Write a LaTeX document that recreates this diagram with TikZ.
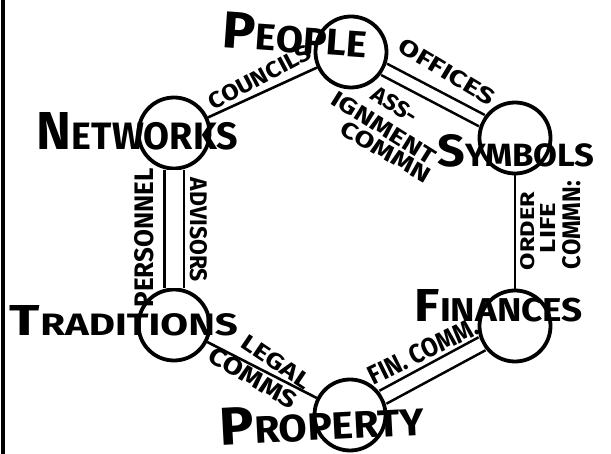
\documentclass[tikz,border=0pt]{standalone}
\usepackage{fontspec}
\setmainfont{Fira Sans}
\newcommand\fitbox[3]{\resizebox{#1pt}{#2pt}{#3}}
\newcommand\hwtext[2]{{\fontsize{14}{14}\selectfont #1}{\fontsize{10}{10}\selectfont #2}}
\tikzset{
  hub/.style={circle, draw, line width=3.8pt, fill=white, minimum size=71pt, inner sep=0pt},
  conn/.style={line width=2.6pt},
  dconn/.style={line width=2.6pt, double=white, double distance=#1},
  biglab/.style={inner sep=0pt, font=\fontseries{sb}\selectfont},
  smlab/.style={inner sep=0pt, font=\bfseries},
}
\begin{document}
\begin{tikzpicture}[x=1pt,y=-1pt]
\useasboundingbox (0,0) rectangle (611,454);
\fill (1,0) rectangle (5,454);
% hubs
\node[hub] (people) at (351,52) {};
\node[hub] (symbols) at (515,138) {};
\node[hub] (finances) at (515,326) {};
\node[hub] (property) at (350,415) {};
\node[hub] (traditions) at (174,325) {};
\node[hub] (networks) at (174,133) {};
% connectors
\draw[conn] (networks) -- (people);
\draw[dconn=10pt] (people) -- (symbols);
\draw[dconn=12pt] (finances) -- (property);
\draw[conn] (symbols) -- (finances);
\draw[conn] (property) -- (traditions);
\draw[dconn=17pt] (traditions) -- (networks);
% big labels
\node[biglab, rotate=-4] (peoplelab) at (295.5,35) {\fitbox{145}{36}{\hwtext{P}{EOPLE}}};
\node[biglab] (symbolslab) at (516,151) {\fitbox{157}{32}{\hwtext{S}{YMBOLS}}};
\node[biglab] (networkslab) at (137.5,131.5) {\fitbox{201}{37}{\hwtext{N}{ETWORKS}}};
\node[biglab] (traditionslab) at (124,321) {\fitbox{228}{30}{\hwtext{T}{RADITIONS}}};
\node[biglab] (financeslab) at (499,306) {\fitbox{168}{32}{\hwtext{F}{INANCES}}};
\node[biglab, rotate=3] (propertylab) at (322,422) {\fitbox{205}{37}{\hwtext{P}{ROPERTY}}};
% connector labels
\node[smlab, rotate=28] (councils) at (260,77) {\fitbox{113}{16}{COUNCILS}};
\node[smlab, rotate=-31] (offices) at (447,72) {\fitbox{109}{16}{OFFICES}};
\node[smlab, rotate=-32] (ass) at (395,105) {\fitbox{50}{16}{ASS-}};
\node[smlab, rotate=-32] (ignment) at (384,128) {\fitbox{118}{16}{IGNMENT}};
\node[smlab, rotate=-30] (commn) at (386,152) {\fitbox{100}{16}{COMMN}};
\node[smlab, rotate=90] (order) at (528,231) {\fitbox{78}{14}{ORDER}};
\node[smlab, rotate=90] (life) at (548,228) {\fitbox{50}{15}{LIFE}};
\node[smlab, rotate=90] (commn2) at (572,225) {\fitbox{88}{18}{COMMN:}};
\node[smlab, rotate=26] (fincomm) at (423,351) {\fitbox{119}{19}{FIN. COMM.}};
\node[smlab, rotate=-34] (legal) at (276,362) {\fitbox{78}{16}{LEGAL}};
\node[smlab, rotate=-30] (commb) at (253,378) {\fitbox{98}{17}{COMMS}};
\node[smlab, rotate=-90] (advisors) at (199,230) {\fitbox{104}{17}{ADVISORS}};
\node[smlab, rotate=90] (personnel) at (144,238) {\fitbox{139}{19}{PERSONNEL}};
\end{tikzpicture}
\end{document}
